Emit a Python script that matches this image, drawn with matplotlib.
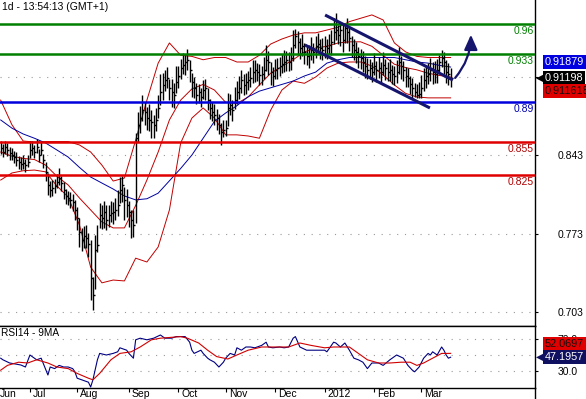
import numpy as np
import pandas as pd
import matplotlib
matplotlib.use("Agg")
import matplotlib.pyplot as plt
import matplotlib.transforms as mtransforms
from matplotlib.patches import FancyArrowPatch

plt.rcParams['font.family'] = ['Liberation Sans', 'DejaVu Sans']

# daily bars, 14 Jun 2011 .. 20 Mar 2012
dates = pd.bdate_range('2011-06-14', periods=201)

close = [0.8493, 0.8457, 0.8502, 0.8475, 0.8448, 0.8430, 0.8413, 0.8386, 0.8368, 0.8350,
         0.8359, 0.8341, 0.8368, 0.8475, 0.8493, 0.8457, 0.8502, 0.8430, 0.8475, 0.8386,
         0.8279, 0.8163, 0.8118, 0.8136, 0.8154, 0.8190, 0.8225, 0.8181, 0.8118, 0.8065,
         0.8047, 0.8029, 0.8011, 0.7940, 0.7868, 0.7744, 0.7672, 0.7708, 0.7690, 0.7637,
         0.7333, 0.7182, 0.7583, 0.7628, 0.7895, 0.7868, 0.7922, 0.7851, 0.7895, 0.7913,
         0.7922, 0.7940, 0.7984, 0.8118, 0.8163, 0.8029, 0.7984, 0.7922, 0.7851, 0.7806,
         0.8582, 0.8698, 0.8760, 0.8832, 0.8814, 0.8760, 0.8743, 0.8725, 0.8698, 0.8743,
         0.8850, 0.8992, 0.9055, 0.9099, 0.9117, 0.9028, 0.8992, 0.8966, 0.9082, 0.9135,
         0.9206, 0.9233, 0.9260, 0.9278, 0.9189, 0.9082, 0.9028, 0.8966, 0.8992, 0.8948,
         0.9010, 0.9028, 0.8921, 0.8850, 0.8814, 0.8787, 0.8760, 0.8698, 0.8636, 0.8653,
         0.8671, 0.8850, 0.8876, 0.8832, 0.8921, 0.8992, 0.9028, 0.9099, 0.9055, 0.9082,
         0.9099, 0.9117, 0.9171, 0.9189, 0.9171, 0.9144, 0.9153, 0.9189, 0.9278, 0.9260,
         0.9171, 0.9135, 0.9189, 0.9206, 0.9224, 0.9242, 0.9260, 0.9278, 0.9260, 0.9296,
         0.9412, 0.9492, 0.9438, 0.9385, 0.9403, 0.9349, 0.9313, 0.9322, 0.9367, 0.9349,
         0.9403, 0.9421, 0.9385, 0.9367, 0.9403, 0.9385, 0.9412, 0.9438, 0.9528, 0.9545,
         0.9501, 0.9545, 0.9456, 0.9563, 0.9528, 0.9474, 0.9412, 0.9367, 0.9349, 0.9313,
         0.9296, 0.9260, 0.9224, 0.9189, 0.9206, 0.9171, 0.9224, 0.9189, 0.9206, 0.9171,
         0.9233, 0.9206, 0.9171, 0.9189, 0.9153, 0.9135, 0.9171, 0.9260, 0.9224, 0.9189,
         0.9135, 0.9117, 0.9064, 0.9028, 0.8992, 0.8966, 0.8975, 0.9028, 0.9099, 0.9135,
         0.9153, 0.9189, 0.9171, 0.9153, 0.9189, 0.9260, 0.9296, 0.9260, 0.9171, 0.9153, 0.9120]

# distance of high / low from the close, in pips
hi_pips = [60, 70, 50, 65, 55, 60, 50, 70, 55, 60,
           70, 55, 60, 80, 65, 60, 75, 55, 70, 50,
           90, 110, 80, 70, 60, 75, 85, 60, 70, 65,
           60, 75, 70, 90, 100, 120, 110, 90, 120, 100,
           340, 160, 130, 180, 110, 120, 100, 130, 90, 110,
           90, 110, 130, 120, 80, 120, 140, 100, 90, 130,
           45, 120, 110, 130, 90, 100, 140, 110, 90, 110,
           120, 160, 110, 90, 100, 80, 120, 110, 140, 90,
           80, 110, 70, 95, 90, 80, 100, 110, 70, 80,
           90, 80, 110, 80, 90, 100, 80, 100, 80, 90,
           70, 130, 100, 90, 120, 100, 110, 90, 100, 80,
           80, 100, 110, 90, 80, 100, 70, 120, 130, 100,
           90, 80, 100, 90, 80, 90, 110, 80, 90, 100,
           130, 60, 100, 90, 110, 80, 100, 90, 120, 80,
           90, 100, 80, 110, 90, 80, 100, 110, 120, 150,
           90, 50, 140, 40, 120, 90, 80, 100, 90, 80,
           80, 100, 90, 110, 80, 90, 120, 80, 100, 90,
           120, 80, 90, 100, 80, 90, 110, 130, 90, 80,
           80, 90, 70, 90, 80, 100, 110, 120, 110, 90,
           100, 110, 90, 120, 100, 60, 75, 90, 110, 100, 90]
lo_pips = [55, 45, 60, 50, 60, 45, 55, 50, 60, 50,
           50, 60, 45, 70, 60, 55, 50, 65, 45, 70,
           80, 90, 60, 70, 65, 55, 60, 75, 80, 70,
           65, 70, 80, 90, 110, 130, 100, 110, 90, 120,
           200, 135, 350, 60, 120, 100, 140, 90, 110, 80,
           110, 90, 100, 120, 150, 180, 110, 130, 160, 110,
           760, 150, 130, 100, 120, 110, 100, 140, 120, 100,
           90, 120, 130, 100, 90, 110, 130, 120, 100, 110,
           100, 80, 120, 90, 110, 130, 90, 80, 100, 90,
           80, 110, 90, 100, 80, 90, 110, 80, 120, 60,
           70, 160, 90, 100, 80, 110, 100, 120, 90, 110,
           90, 80, 100, 110, 80, 90, 100, 80, 100, 120,
           120, 90, 80, 100, 90, 80, 90, 100, 80, 110,
           140, 110, 120, 100, 90, 110, 80, 120, 90, 100,
           110, 80, 100, 90, 110, 100, 80, 120, 110, 90,
           80, 140, 110, 130, 100, 120, 110, 90, 100, 110,
           100, 90, 110, 80, 100, 90, 80, 110, 90, 100,
           90, 110, 80, 100, 90, 80, 100, 110, 120, 100,
           100, 80, 90, 100, 40, 30, 40, 90, 100, 110,
           90, 100, 110, 80, 120, 90, 80, 110, 100, 100, 80]

# bollinger bands and the long moving average, read every 5 bars
band_bars = list(range(0, 201, 5))
bb_upper = [0.892, 0.870, 0.8555, 0.8546, 0.855, 0.855, 0.855, 0.852, 0.8457, 0.834,
            0.8198, 0.8225, 0.8564, 0.892, 0.925, 0.943, 0.932, 0.931, 0.928, 0.930,
            0.930, 0.926, 0.926, 0.932, 0.942, 0.9465, 0.950, 0.952, 0.952, 0.9545,
            0.957, 0.962, 0.965, 0.968, 0.9635, 0.943, 0.935, 0.931, 0.930, 0.930, 0.930]
bb_middle = [0.8457, 0.842, 0.840, 0.839, 0.834, 0.824, 0.8163, 0.8047, 0.794, 0.7833,
             0.778, 0.778, 0.798, 0.8207, 0.8457, 0.8743, 0.892, 0.902, 0.906, 0.901,
             0.890, 0.889, 0.8948, 0.9055, 0.916, 0.922, 0.928, 0.935, 0.9385, 0.940,
             0.943, 0.944, 0.944, 0.940, 0.932, 0.924, 0.921, 0.919, 0.916, 0.914, 0.9126]
bb_lower = [0.8207, 0.827, 0.829, 0.8296, 0.828, 0.8154, 0.8056, 0.7806, 0.743, 0.729,
            0.7315, 0.7307, 0.751, 0.7476, 0.761, 0.794, 0.8537, 0.876, 0.885, 0.876,
            0.861, 0.861, 0.860, 0.858, 0.883, 0.901, 0.909, 0.907, 0.9126, 0.9206,
            0.925, 0.926, 0.926, 0.9224, 0.9144, 0.9055, 0.898, 0.8948, 0.894, 0.894, 0.894]
ma_long = [0.8743, 0.867, 0.8618, 0.858, 0.8537, 0.8475, 0.8412, 0.832, 0.8234, 0.818,
           0.8127, 0.8065, 0.803, 0.804, 0.809, 0.820, 0.831, 0.843, 0.858, 0.873,
           0.8805, 0.887, 0.895, 0.900, 0.903, 0.906, 0.909, 0.9135, 0.917, 0.925,
           0.928, 0.930, 0.930, 0.930, 0.930, 0.930, 0.928, 0.926, 0.925, 0.923, 0.9215]

level_values = [0.96, 0.933, 0.89, 0.855, 0.825]
level_labels = ['0.96', '0.933', '0.89', '0.855', '0.825']
level_colors = ['#008000', '#008000', '#0000DD', '#E00000', '#E00000']
level_text_colors = ['#008000', '#008000', '#0000B0', '#B00000', '#B00000']

# trend channel (bar, price)
channel_top = [(144.2, 0.9679), (201.0, 0.9099)]
channel_bottom = [(135.2, 0.9412), (190.8, 0.8850)]
arrow_from = (201.2, 0.9099)
arrow_to = (209.0, 0.9528)

# RSI 14 and its 9 period average
rsi_bars = [0, 1, 4, 9, 11, 13, 16, 18, 21, 22, 24, 26, 28, 30, 32, 33, 34, 36, 39, 40,
            41, 43, 44, 47, 50, 52, 53, 56, 57, 59, 60, 62, 65, 68, 71, 73, 76, 78, 80, 82,
            84, 85, 86, 89, 90, 92, 93, 95, 97, 99, 100, 102, 104, 105, 107, 109, 111, 113, 116, 118,
            119, 121, 124, 126, 128, 130, 131, 133, 136, 141, 144, 145, 148, 149, 151, 153, 155, 157, 159, 161,
            163, 165, 168, 170, 173, 176, 179, 181, 183, 184, 186, 188, 190, 191, 192, 194, 196, 197, 198, 199, 200]
rsi_vals = [46, 44, 40, 37.5, 35, 50, 44, 46, 25, 35, 33, 37, 35, 35, 33, 29, 21, 19, 16, 10,
            19, 44, 52, 50, 52, 54, 59, 56, 52, 46, 69, 71, 69, 71, 75, 71, 71, 73, 73, 73,
            66, 56, 52, 56, 52, 46, 44, 41, 35, 41, 46, 52, 50, 59, 56, 60, 60, 59, 62, 66,
            60, 59, 60, 59, 60, 71, 73, 60, 56, 56, 56, 54, 66, 65, 60, 65, 56, 46, 44, 41,
            33, 40, 40, 37, 44, 50, 46, 37, 31, 29, 35, 46, 52, 50, 54, 50, 60, 56, 50, 46, 47.1957]
rsi_ma_bars = [0, 3, 8, 12, 16, 21, 25, 30, 34, 39, 41, 44, 49, 53, 58, 62, 67, 71, 80, 83,
               88, 92, 96, 101, 105, 110, 116, 121, 128, 133, 138, 144, 148, 155, 159, 163, 168, 173, 178, 182,
               185, 188, 192, 196, 199, 200]
rsi_ma_vals = [31, 37, 41, 40, 44, 40, 35, 33, 27, 21, 19, 27, 44, 52, 54, 60, 69, 71, 73, 71,
               65, 56, 48, 45, 50, 56, 60, 60, 60, 65, 62, 59, 60, 60, 52, 44, 40, 40, 41, 41,
               37, 40, 46, 52, 52, 52.0697]

last_close = 0.91198
last_ma = 0.91879
last_band = 0.911618

close = np.array(close)
high = close + np.array(hi_pips) * 1e-4
low = close - np.array(lo_pips) * 1e-4
x = np.arange(len(close))

W, H = 586, 399
fig = plt.figure(figsize=(W / 100, H / 100), dpi=100)
ax = fig.add_axes([0, 1 - 326 / H, 535 / W, 326 / H])
ax2 = fig.add_axes([0, 11 / H, 535 / W, 62 / H])

xlim = (-0.3, 237.5)
dot = (0, (1, 6))

# ---- price panel
ax.set_xlim(*xlim)
ax.set_ylim(0.6905, 0.9813)
for v in [0.703, 0.773, 0.843, 0.913]:
    ax.axhline(v, color='#999999', lw=0.8, ls=dot, zorder=1)

ax.plot(band_bars, bb_upper, color='#C00000', lw=0.7, zorder=2)
ax.plot(band_bars, bb_middle, color='#C00000', lw=0.7, zorder=2)
ax.plot(band_bars, bb_lower, color='#C00000', lw=0.7, zorder=2)
ax.plot(band_bars, ma_long, color='#0000A0', lw=0.7, zorder=2)

ax.vlines(x, low, high, color='black', lw=1.0, zorder=3)
ax.hlines(close, x, x + 0.9, color='black', lw=1.0, zorder=3)

for v, c in zip(level_values, level_colors):
    ax.axhline(v, color=c, lw=1.8, zorder=4)
lab_tr = mtransforms.blended_transform_factory(ax.transAxes, ax.transData)
for v, t, c in zip(level_values, level_labels, level_text_colors):
    ax.annotate(t, xy=(1, v), xycoords=lab_tr, xytext=(-1, -1.5), textcoords='offset points',
                ha='right', va='top', color=c, fontsize=7.5, zorder=5)

for seg in [channel_top, channel_bottom]:
    ax.plot([p[0] for p in seg], [p[1] for p in seg], color='#15156E', lw=2.2,
            solid_capstyle='butt', zorder=5)
ax.add_patch(FancyArrowPatch(arrow_from, arrow_to, connectionstyle='arc3,rad=0.2',
                             arrowstyle='-|>,head_length=9,head_width=4',
                             color='#15156E', lw=1.6, zorder=6, clip_on=False))

ax.set_xticks([])
ax.yaxis.tick_right()
ax.set_yticks([0.703, 0.773, 0.843, 0.913])
ax.set_yticklabels(['0.703', '0.773', '0.843', '0.913'])
ax.tick_params(axis='y', direction='out', length=2, pad=14, labelsize=7.5, width=0.8)
for s in ['left', 'top']:
    ax.spines[s].set_visible(False)
for s in ['right', 'bottom']:
    ax.spines[s].set_linewidth(1.0)

# value tags on the right
def tag(axis, value, text, fc, tc, dy):
    tr = mtransforms.blended_transform_factory(axis.transAxes, axis.transData)
    axis.annotate(text, xy=(1, value), xycoords=tr, xytext=(7, dy), textcoords='offset points',
                  ha='left', va='center', color=tc, fontsize=7.8, zorder=10,
                  bbox=dict(boxstyle='square,pad=0.18', fc=fc, ec='none'))

tag(ax, last_ma, '0.91879', '#0000E0', 'white', 6)
tag(ax, last_close, '0.91198', 'black', 'white', 0)
ax.annotate('\u25C0', xy=(1, last_close), xycoords=lab_tr, xytext=(0.5, 0), textcoords='offset points',
            ha='left', va='center', fontsize=7, color='black', zorder=10)
tag(ax, last_band, '0.911618', '#E00000', '#101010', -9.5)

fig.text(2 / W, 1 - 7 / H, '1d - 13:54:13 (GMT+1)', va='center', ha='left', fontsize=7.5)

# ---- RSI panel
ax2.set_xlim(*xlim)
ax2.set_ylim(8.75, 86.25)
for v in [30, 50, 70]:
    ax2.axhline(v, color='#999999', lw=0.8, ls=dot, zorder=1)
ax2.plot(rsi_ma_bars, rsi_ma_vals, color='#D00000', lw=0.8, zorder=3)
ax2.plot(rsi_bars, rsi_vals, color='#000080', lw=0.8, zorder=2)

ax2.yaxis.tick_right()
ax2.set_yticks([30, 70])
ax2.set_yticklabels(['30.0', '70.0'])
ax2.tick_params(axis='y', direction='out', length=2, pad=14, labelsize=7.5, width=0.8)
ax2.spines['left'].set_visible(False)
for s in ['right', 'bottom', 'top']:
    ax2.spines[s].set_linewidth(1.0)

rtr = mtransforms.blended_transform_factory(ax2.transAxes, ax2.transData)
tag(ax2, 52.0697, '52.0697', '#E00000', '#101010', 7)
tag(ax2, 47.1957, '47.1957', '#101060', 'white', 0)
ax2.annotate('\u25C0', xy=(1, 47.1957), xycoords=rtr, xytext=(0.5, 0), textcoords='offset points',
             ha='left', va='center', fontsize=7, color='#101060', zorder=10)

fig.text(1 / W, 1 - 333 / H, 'RSI14 - 9MA', va='center', ha='left', fontsize=7.3)

# month ticks
month_idx = [i for i in range(1, len(dates)) if dates[i].month != dates[i - 1].month]
month_lab = ['2012' if dates[i].month == 1 else dates[i].strftime('%b') for i in month_idx]
ax2.set_xticks(month_idx)
ax2.set_xticklabels([''] * len(month_idx))
ax2.tick_params(axis='x', direction='out', length=3, width=0.8)
btr = mtransforms.blended_transform_factory(ax2.transData, ax2.transAxes)
for i, lab in zip(month_idx, month_lab):
    ax2.annotate(lab, xy=(i, 0), xycoords=btr, xytext=(2.2, -1), textcoords='offset points',
                 ha='left', va='top', fontsize=7.5)
ax2.annotate(dates[0].strftime('%b'), xy=(0, 0), xycoords=ax2.transAxes, xytext=(0, -1),
             textcoords='offset points', ha='left', va='top', fontsize=7.5)

# right axis line continues to the bottom edge
fig.add_artist(plt.Line2D([535 / W, 535 / W], [0, 11 / H], transform=fig.transFigure,
                          color='black', lw=1.0))

fig.savefig('out.png', dpi=100)
